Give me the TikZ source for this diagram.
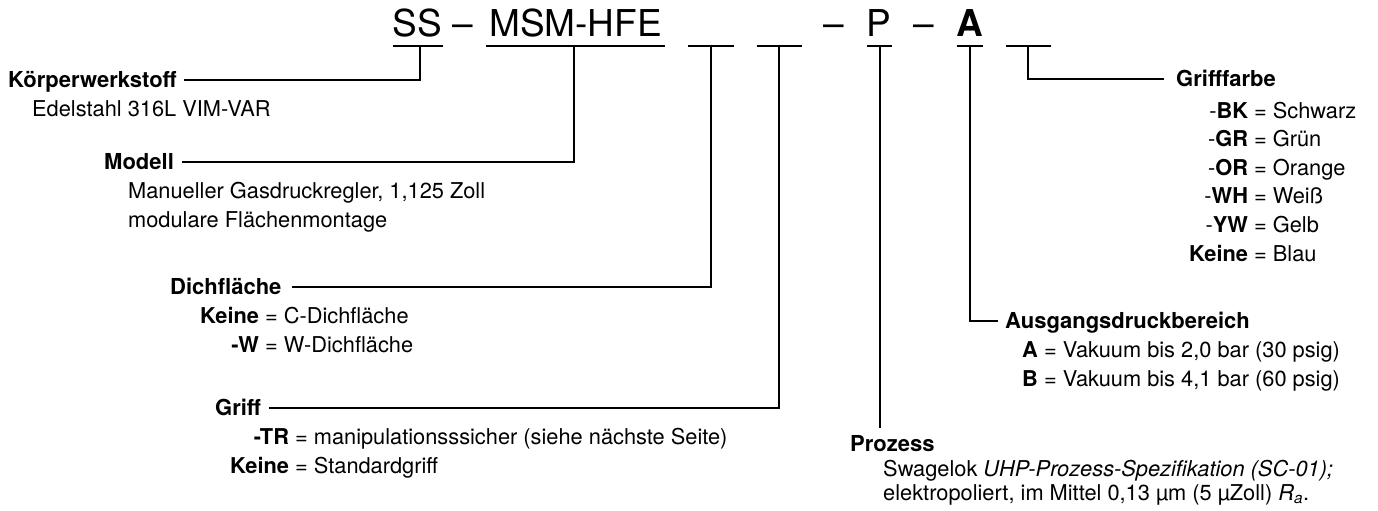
\documentclass[tikz,border=0pt]{standalone}
\usepackage{fontspec}
\setmainfont{TeX Gyre Heros}
\begin{document}
\begin{tikzpicture}[x=1pt,y=-1pt,
  hdr/.style={inner sep=0pt, anchor=base, font=\fontsize{37}{44}\selectfont},
  head/.style={inner sep=0pt, anchor=base west, font=\fontsize{22}{29}\selectfont\bfseries},
  body/.style={inner sep=0pt, anchor=base west, font=\fontsize{21.8}{29}\selectfont},
  lead/.style={line width=1.7pt},
]
\useasboundingbox (0,0) rectangle (1378,511);

% ---- header code ----
\node[hdr] (hSS)  at (417.5,37) {SS};
\node[hdr] (hd1)  at (462.5,37) {–};
\node[hdr] (hMSM) at (575.5,37) {MSM-HFE};
\node[hdr] (hd2)  at (833.5,37) {–};
\node[hdr] (hP)   at (879,37)   {P};
\node[hdr] (hd3)  at (923.5,37) {–};
\node[hdr] (hA)   at (970,37)   {\textbf{A}};

% underlines
\draw[lead] (393,46) -- (443,46);
\draw[lead] (486,46) -- (665,46);
\draw[lead] (688,46) -- (734,46);
\draw[lead] (757,46) -- (802,46);
\draw[lead] (867,46) -- (892,46);
\draw[lead] (957,46) -- (983,46);
\draw[lead] (1006,46) -- (1051,46);

% tick points
\coordinate (tSS)  at (420,46);
\coordinate (tMSM) at (574,46);
\coordinate (tB1)  at (711,46);
\coordinate (tB2)  at (779,46);
\coordinate (tP)   at (880,46);
\coordinate (tA)   at (970,46);
\coordinate (tB3)  at (1028,46);

% ---- labels ----
\node[head] (koerper) at (8,87) {Körperwerkstoff};
\node[body] (koerperL) at (32,116) {Edelstahl 316L VIM-VAR};

\node[head] (modell) at (104,169) {Modell};
\node[body] (modellL) at (128,198) {\begin{tabular}[t]{@{}l@{}}Manueller Gasdruckregler, 1,125 Zoll\\modulare Flächenmontage\end{tabular}};

\node[head] (dicht) at (170,294) {Dichfläche};
\node[body] (dichtL) at (200,323) {\begin{tabular}[t]{@{}r@{\ =\ }l@{}}\textbf{Keine} & C-Dichfläche\\ \textbf{-W} & W-Dichfläche\end{tabular}};

\node[head] (griff) at (215,415) {Griff};
\node[body] (griffL) at (230,444) {\begin{tabular}[t]{@{}r@{\ =\ }l@{}}\textbf{-TR} & manipulationsssicher (siehe nächste Seite)\\ \textbf{Keine} & Standardgriff\end{tabular}};

\node[head] (prozess) at (850,451) {Prozess};
\node[body, font=\fontsize{21.8}{24.5}\selectfont] (prozessL) at (883,476) {\begin{tabular}[t]{@{}l@{}}Swagelok \textit{UHP-Prozess-Spezifikation (SC-01);}\\ elektropoliert, im Mittel 0,13 µm (5 µZoll) \textit{R}\textsubscript{\textit{a}}.\end{tabular}};

\node[head] (ausgang) at (1005,328) {Ausgangsdruckbereich};
\node[body] (ausgangL) at (1022,357) {\begin{tabular}[t]{@{}r@{\ =\ }l@{}}\textbf{A} & Vakuum bis 2,0 bar (30 psig)\\ \textbf{B} & Vakuum bis 4,1 bar (60 psig)\end{tabular}};

\node[head] (farbe) at (1176,86) {Grifffarbe};
\node[body, font=\fontsize{21.8}{28.6}\selectfont] (farbeL) at (1189,118) {\begin{tabular}[t]{@{}r@{\ =\ }l@{}}-\textbf{BK} & Schwarz\\ -\textbf{GR} & Grün\\ -\textbf{OR} & Orange\\ -\textbf{WH} & Weiß\\ -\textbf{YW} & Gelb\\ \textbf{Keine} & Blau\end{tabular}};

% ---- leaders ----
\draw[lead] (tSS)  |- ([xshift=7pt,yshift=7pt]koerper.base east);
\draw[lead] (tMSM) |- ([xshift=8pt,yshift=7pt]modell.base east);
\draw[lead] (tB1)  |- ([xshift=10pt,yshift=7pt]dicht.base east);
\draw[lead] (tB2)  |- ([xshift=8pt,yshift=7pt]griff.base east);
\draw[lead] (tP)   -- ([yshift=23pt]prozess.base -| tP);
\draw[lead] (tA)   |- ([xshift=-7pt,yshift=7pt]ausgang.base west);
\draw[lead] (tB3)  |- ([xshift=-12pt,yshift=7pt]farbe.base west);
\end{tikzpicture}
\end{document}
